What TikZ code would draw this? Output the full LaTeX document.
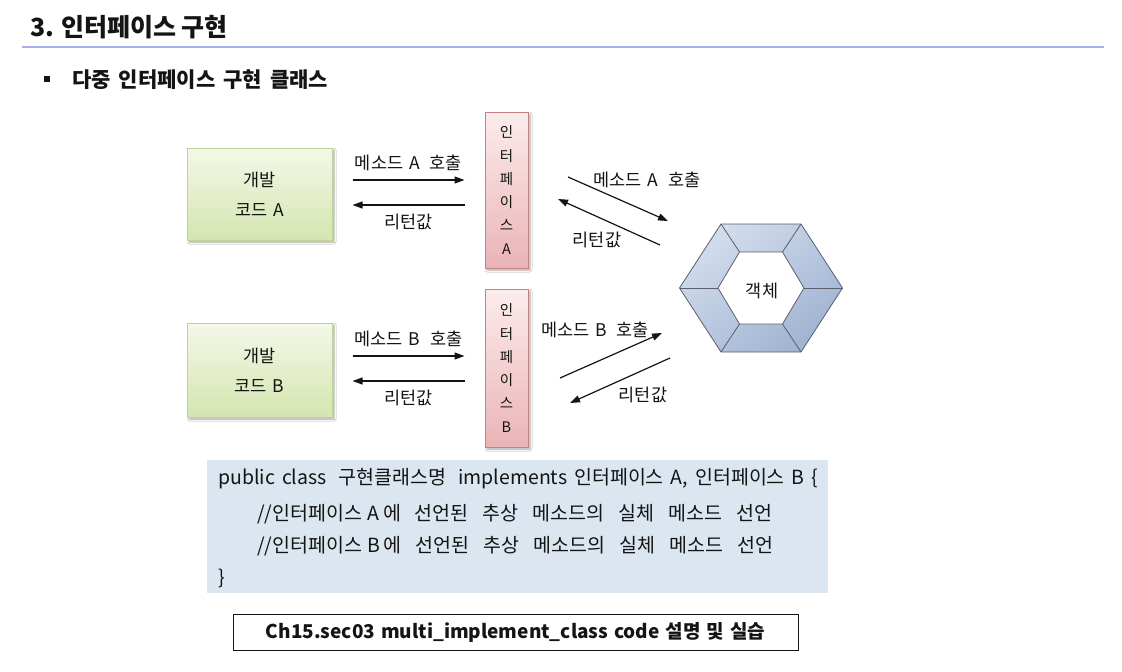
\documentclass[tikz,border=0pt]{standalone}
\usepackage{fontspec}
\setmainfont{Noto Sans CJK KR}
\usetikzlibrary{
    arrows.meta,
    positioning,
    calc,
    shadings,
    shadows.blur
}
\definecolor{bgWhite}{RGB}{255, 255, 255}
\definecolor{textBlack}{RGB}{20, 20, 20}
\definecolor{ruleBlue}{RGB}{168, 176, 232}
\definecolor{devTop}{RGB}{244, 248, 232}
\definecolor{devBottom}{RGB}{212, 229, 176}
\definecolor{devBorder}{RGB}{190, 212, 148}
\definecolor{ifaceTop}{RGB}{252, 236, 236}
\definecolor{ifaceBottom}{RGB}{234, 180, 182}
\definecolor{ifaceBorder}{RGB}{200, 128, 130}
\definecolor{hexLight}{RGB}{220, 229, 241}
\definecolor{hexMid}{RGB}{186, 201, 224}
\definecolor{hexDark}{RGB}{150, 170, 204}
\definecolor{hexEdge}{RGB}{90, 94, 108}
\definecolor{codeBlue}{RGB}{220, 230, 240}
\def\pageW{1122}
\def\pageH{672}
\tikzset{
    h1/.style={
        font={\bfseries\fontsize{25}{28}\selectfont\spaceskip=5pt\relax},
        text=textBlack,
        anchor=base west,
        inner sep=0pt
    },
    h2/.style={
        font={\bfseries\fontsize{21}{24}\selectfont\spaceskip=8pt\relax},
        text=textBlack,
        anchor=base west,
        inner sep=0pt
    },
    devBox/.style={
        rectangle,
        minimum width=145pt,
        minimum height=92pt,
        top color=devTop,
        bottom color=devBottom,
        draw=devBorder,
        line width=1pt,
        blur shadow={shadow xshift=2pt, shadow yshift=-2pt, shadow blur radius=2pt, shadow opacity=35},
        align=center,
        text=textBlack,
        font={\fontsize{17.5}{30}\selectfont\spaceskip=6pt\relax}
    },
    ifaceBox/.style={
        rectangle,
        minimum width=43pt,
        minimum height=156pt,
        top color=ifaceTop,
        bottom color=ifaceBottom,
        draw=ifaceBorder,
        line width=1pt,
        blur shadow={shadow xshift=2pt, shadow yshift=-2pt, shadow blur radius=2pt, shadow opacity=35},
        align=center,
        text=textBlack,
        font=\fontsize{14.5}{23.3}\selectfont
    },
    callArrow/.style={
        line width=1.2pt,
        draw=textBlack,
        -{Triangle[length=10pt, width=7pt]}
    },
    arrowLabel/.style={
        font={\fontsize{17.5}{20}\selectfont\spaceskip=6pt\relax},
        text=textBlack
    },
    codeLine/.style={
        font={\fontsize{19.5}{22}\selectfont\spaceskip=7pt\relax},
        text=textBlack,
        anchor=west,
        inner sep=0pt
    },
    codeComment/.style={
        codeLine,
        font={\fontsize{19.5}{22}\selectfont\spaceskip=14pt\relax}
    }
}
\begin{document}
\begin{tikzpicture}[x=1pt, y=-1pt]
    \useasboundingbox (0,0) rectangle (\pageW, \pageH);
    \fill[bgWhite] (0,0) rectangle (\pageW, \pageH);

    \node[h1] (title) at (30, 36) {3. 인터페이스 구현};
    \draw[ruleBlue, line width=1.5pt] (22, 47) -- (1104, 47);

    \fill[textBlack] (44, 76) rectangle (50, 82);
    \node[h2] (subtitle) at (72, 87) {다중 인터페이스 구현 클래스};

    % Developer code and interfaces
    \node[devBox] (devA) at (259.5, 194) {개발\\코드 A};
    \node[devBox, minimum height=94pt] (devB) at (259.5, 370) {개발\\코드 B};
    \node[ifaceBox] (ifA) at (506.5, 190) {인\\터\\페\\이\\스\\A};
    \node[ifaceBox, minimum height=158pt] (ifB) at (506.5, 368) {인\\터\\페\\이\\스\\B};

    \draw[callArrow, shorten <=20pt, shorten >=20pt] ([yshift=14pt]devA.east) -- ([yshift=14pt]devA.east -| ifA.west)
        node[arrowLabel, midway, above=5pt] {메소드 A\hspace{4pt} 호출};
    \draw[callArrow, shorten <=20pt, shorten >=20pt] ([yshift=-11pt]devA.east -| ifA.west) -- ([yshift=-11pt]devA.east)
        node[arrowLabel, midway, below=5pt] {리턴값};
    \draw[callArrow, shorten <=20pt, shorten >=20pt] ([yshift=14pt]devB.east) -- ([yshift=14pt]devB.east -| ifB.west)
        node[arrowLabel, midway, above=5pt] {메소드 B\hspace{4pt} 호출};
    \draw[callArrow, shorten <=20pt, shorten >=20pt] ([yshift=-11pt]devB.east -| ifB.west) -- ([yshift=-11pt]devB.east)
        node[arrowLabel, midway, below=5pt] {리턴값};

    % Visual: Object hexagon
    \begin{scope}[shift={(761, 288)}]
        \shadedraw[upper left=hexLight, upper right=hexMid, lower left=hexMid, lower right=hexDark, draw=hexEdge, line width=0.8pt]
            (-81.5,0) -- (-40,-64) -- (40,-64) -- (81.5,0) -- (40,64) -- (-40,64) -- cycle;
        \filldraw[fill=bgWhite, draw=hexEdge, line width=0.8pt]
            (-43,0) -- (-21.5,-36) -- (21.5,-36) -- (43,0) -- (21.5,36) -- (-21.5,36) -- cycle;
        \foreach \ox/\oy/\ix/\iy in {-81.5/0/-43/0, -40/-64/-21.5/-36, 40/-64/21.5/-36, 81.5/0/43/0, 40/64/21.5/36, -40/64/-21.5/36}
            \draw[hexEdge, line width=0.8pt] (\ox,\oy) -- (\ix,\iy);
    \end{scope}
    \node[arrowLabel] (obj) at (762, 291) {객체};

    \coordinate (callAFrom) at (568, 177);
    \coordinate (callATo) at (668, 221);
    \coordinate (retAFrom) at (660, 245);
    \coordinate (retATo) at (558, 199);
    \coordinate (callBFrom) at (560, 378);
    \coordinate (callBTo) at (662, 333);
    \coordinate (retBFrom) at (670, 358);
    \coordinate (retBTo) at (570, 403);

    \draw[callArrow] (callAFrom) -- (callATo);
    \draw[callArrow] (retAFrom) -- (retATo);
    \draw[callArrow] (callBFrom) -- (callBTo);
    \draw[callArrow] (retBFrom) -- (retBTo);
    \node[arrowLabel] (callALabel) at (647, 180) {메소드 A\hspace{4pt} 호출};
    \node[arrowLabel] (retALabel) at (597, 240) {리턴값};
    \node[arrowLabel] (callBLabel) at (595, 330) {메소드 B\hspace{4pt} 호출};
    \node[arrowLabel] (retBLabel) at (643, 395) {리턴값};

    % Code
    \node[rectangle, fill=codeBlue, minimum width=621pt, minimum height=133pt] (code) at (517.5, 526.5) {};
    \node[codeLine] (codeL1) at (218, 479) {public class\hspace{5pt} 구현클래스명\hspace{5pt} implements 인터페이스 A, 인터페이스 B \{};
    \node[codeComment] (codeL2) at (257, 514) {//인터페이스\hspace{5pt}A\hspace{4pt}에 선언된 추상 메소드의 실체 메소드 선언};
    \node[codeComment] (codeL3) at (257, 546) {//인터페이스\hspace{5pt}B\hspace{4pt}에 선언된 추상 메소드의 실체 메소드 선언};
    \node[codeLine] (codeL4) at (218, 578) {\}};

    \node[rectangle, draw=textBlack, line width=1pt, fill=bgWhite, minimum width=565pt, minimum height=36pt,
        font={\bfseries\fontsize{19}{22}\selectfont\spaceskip=6pt\relax}, text=textBlack] (practice) at (515.5, 632)
        {Ch15.sec03 multi\_implement\_class code 설명 및 실습};
\end{tikzpicture}
\end{document}
